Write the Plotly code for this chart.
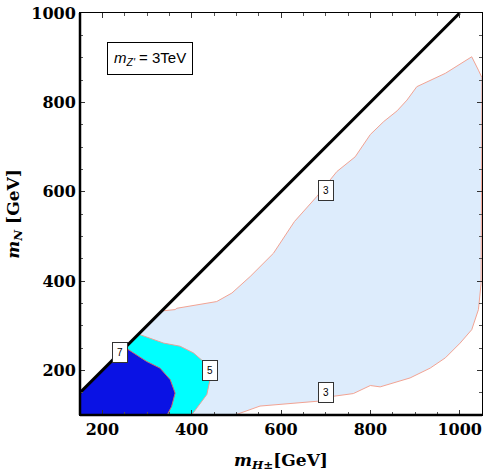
import plotly.graph_objects as go

# ---- data ----
diag_x = [150, 1000]
diag_y = [150, 1000]

# contour level 3 (light blue): upper edge from the diagonal to the right frame,
# then lower edge from the right frame back to the bottom
lvl3_upper_x = [333, 363, 367, 456, 490, 531, 583, 630, 680, 725, 766, 800, 830, 860, 882, 904, 968, 1027, 1042, 1050]
lvl3_upper_y = [333, 336, 339, 354, 373, 410, 462, 533, 589, 645, 678, 728, 757, 781, 805, 835, 865, 902, 872, 855]
lvl3_lower_x = [1050, 1048, 1042, 1027, 1001, 968, 934, 889, 850, 822, 800, 762, 718, 684, 553, 497]
lvl3_lower_y = [855, 395, 336, 291, 261, 228, 205, 183, 172, 163, 166, 148, 142, 131, 120, 100]

# contour level 5 (cyan)
lvl5_x = [281, 337, 374, 404, 426, 441, 434, 404, 400]
lvl5_y = [281, 261, 254, 239, 220, 179, 146, 105, 100]

# contour level 7 (blue)
lvl7_x = [251, 299, 329, 352, 363, 355, 345]
lvl7_y = [251, 220, 205, 179, 149, 119, 100]

# corner of the allowed region (bottom-left)
corner_x = [150, 150]
corner_y = [100, 150]

contour_labels = ["3", "3", "5", "7"]
label_x = [700, 701, 440, 240]
label_y = [602, 151, 200, 241]

x_ticks = [200, 400, 600, 800, 1000]
y_ticks = [200, 400, 600, 800, 1000]

LINE = "#F2A393"

def closed(xs, ys):
    px = list(xs) + [corner_x[0], corner_x[1], xs[0]]
    py = list(ys) + [corner_y[0], corner_y[1], ys[0]]
    return px, py

fig = go.Figure()

x3, y3 = closed(lvl3_upper_x + lvl3_lower_x, lvl3_upper_y + lvl3_lower_y)
fig.add_trace(go.Scatter(x=x3, y=y3, mode="lines", fill="toself",
                         fillcolor="#DDECFC", line=dict(color=LINE, width=1),
                         hoverinfo="skip", showlegend=False))
x5, y5 = closed(lvl5_x, lvl5_y)
fig.add_trace(go.Scatter(x=x5, y=y5, mode="lines", fill="toself",
                         fillcolor="#00FFFF", line=dict(color="#E0A59A", width=1),
                         hoverinfo="skip", showlegend=False))
x7, y7 = closed(lvl7_x, lvl7_y)
fig.add_trace(go.Scatter(x=x7, y=y7, mode="lines", fill="toself",
                         fillcolor="#0A12E4", line=dict(color="#D0606A", width=1),
                         hoverinfo="skip", showlegend=False))

fig.add_trace(go.Scatter(x=diag_x, y=diag_y, mode="lines",
                         line=dict(color="black", width=3),
                         hoverinfo="skip", showlegend=False))

for t, lx, ly in zip(contour_labels, label_x, label_y):
    fig.add_annotation(x=lx, y=ly, text=t, showarrow=False,
                       font=dict(family="Liberation Sans", size=10, color="black"),
                       bgcolor="white", bordercolor="#333333", borderwidth=1, borderpad=4)

fig.add_annotation(x=0.067, y=0.888, xref="paper", yref="paper", showarrow=False,
                   text="<i>m</i><sub><i>Z'</i></sub> = 3TeV",
                   font=dict(family="Liberation Sans", size=15, color="black"),
                   bgcolor="white", bordercolor="black", borderwidth=1, borderpad=6,
                   xanchor="left", yanchor="middle")

tickfont = dict(family="DejaVu Serif", size=16, color="black", weight="bold")
titlefont = dict(family="DejaVu Serif", size=17, color="black", weight="bold")
common = dict(showgrid=False, zeroline=False, showline=True, linecolor="black",
              linewidth=1, mirror="allticks", ticks="inside", ticklen=5,
              tickcolor="#333333", tickwidth=1, tickfont=tickfont, automargin=False,
              ticklabeloverflow="allow",
              minor=dict(dtick=50, ticks="inside", ticklen=3, tickcolor="#555555"))

fig.update_xaxes(range=[150, 1050], tickvals=x_ticks,
                 ticktext=[str(v) for v in x_ticks],
                 title=dict(text="<i>m</i><sub><i>H</i>±</sub>[GeV]", font=titlefont, standoff=15),
                 **common)
fig.update_yaxes(range=[100, 1000], tickvals=y_ticks,
                 ticktext=[str(v) for v in y_ticks],
                 title=dict(text="<i>m</i><sub><i>N</i></sub> [GeV]", font=titlefont, standoff=7),
                 **common)

# heavier left and bottom frame lines
fig.add_shape(type="line", xref="paper", yref="paper", x0=0, x1=0, y0=0, y1=1,
              line=dict(color="black", width=2.5), layer="above")
fig.add_shape(type="line", xref="paper", yref="paper", x0=0, x1=1, y0=0, y1=0,
              line=dict(color="black", width=2.5), layer="above")

fig.update_layout(width=485, height=475, margin=dict(l=80, r=3, t=13, b=60),
                  plot_bgcolor="white", paper_bgcolor="white")

# remove the default page margin so the figure fills the window exactly
fig.write_html("out.html", config={"displayModeBar": False},
               post_script="document.body.style.margin='0px';document.body.style.overflow='hidden';")
